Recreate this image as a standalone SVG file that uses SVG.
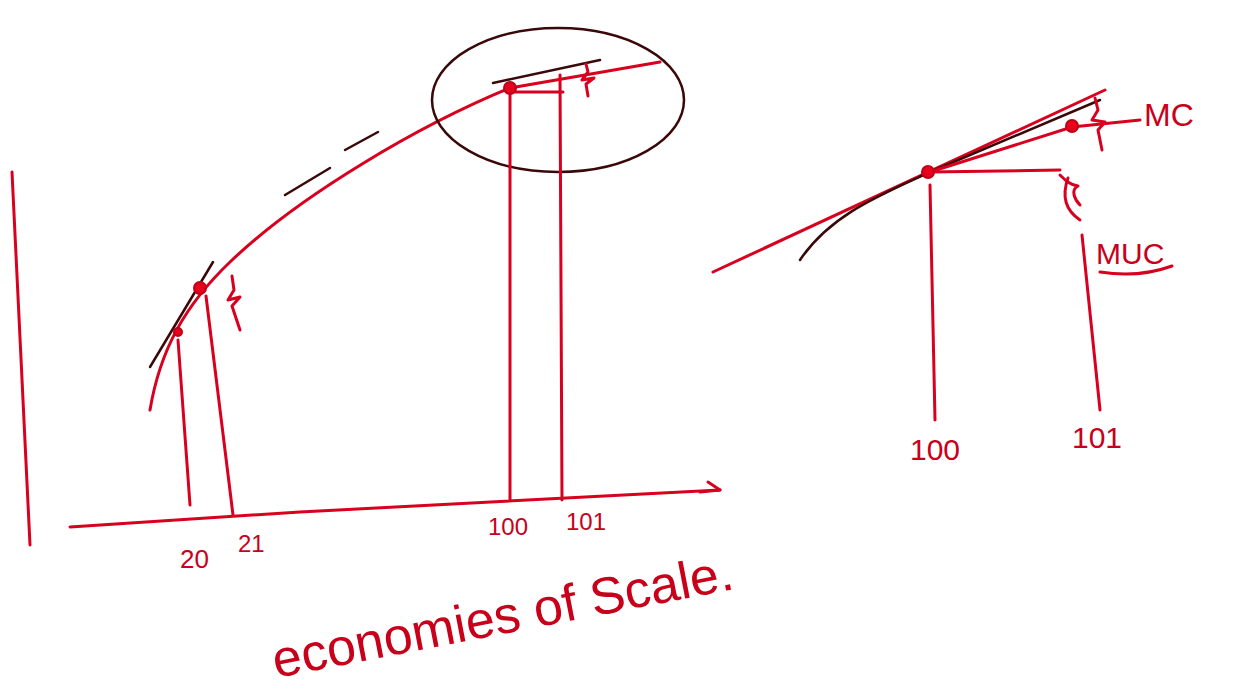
<svg xmlns="http://www.w3.org/2000/svg" width="1234" height="696" viewBox="0 0 1234 696">
<style>
.r{fill:none;stroke:#d8001e;stroke-width:3;stroke-linecap:round;stroke-linejoin:round}
.k{fill:none;stroke:#3a0808;stroke-width:2.5;stroke-linecap:round;stroke-linejoin:round}
.d{fill:#e8001e;stroke:#c00018;stroke-width:2}
.t{font-family:"Liberation Sans","DejaVu Sans",sans-serif;fill:#c8001a}
</style>
<rect width="1234" height="696" fill="#ffffff"/>
<g id="left-graph">
<path class="r" d="M12,172 L30,545"/>
<path class="r" d="M70,527 L300,512 L720,490"/>
<path class="r" d="M700,492 L720,490 L708,482"/>
<path class="r" d="M150,410 C160,350 185,305 230,262 C300,195 420,125 510,88 L660,62"/>
<path class="k" d="M150,367 L213,262"/>
<path class="k" d="M285,195 L330,168"/>
<path class="k" d="M345,150 L378,132"/>
<path class="r" d="M178,340 L190,505"/>
<path class="r" d="M206,296 L233,515"/>
<path class="r" d="M232,276 L234,290 L228,300 L240,297 L232,306 L240,330"/>
<ellipse class="k" cx="558" cy="100" rx="126" ry="72"/>
<path class="k" d="M493,83 L600,60"/>
<path class="r" d="M515,92 L563,92"/>
<path class="r" d="M510,95 L510,500"/>
<path class="r" d="M560,75 L562,500"/>
<path class="r" d="M586,64 L588,72 L582,80 L594,78 L586,84 L588,96"/>
</g>
<g id="right-graph">
<path class="r" d="M713,272 L1105,90"/>
<path class="k" d="M800,260 C830,215 880,195 930,172 L1100,100"/>
<path class="r" d="M930,172 L1060,170"/>
<path class="r" d="M930,172 L1072,127 L1140,120"/>
<path class="r" d="M930,185 L935,420"/>
<path class="r" d="M1082,235 L1100,410"/>
<path class="r" d="M1095,98 L1098,110 L1092,120 L1105,122 L1098,130 L1102,150"/>
<path class="r" d="M1060,175 C1065,180 1070,185 1078,186 C1070,190 1075,200 1080,205"/>
<path class="r" d="M1068,178 C1062,195 1065,210 1080,220"/>
<path class="r" d="M1100,272 C1125,276 1150,274 1172,266"/>
</g>
<g id="dots">
<circle class="d" cx="200" cy="288" r="6"/>
<circle class="d" cx="178" cy="332" r="4"/>
<circle class="d" cx="510" cy="88" r="6"/>
<circle class="d" cx="928" cy="172" r="6"/>
<circle class="d" cx="1072" cy="126" r="6"/>
</g>
<g id="labels">
<text class="t" x="180" y="568" font-size="26">20</text>
<text class="t" x="238" y="552" font-size="24">21</text>
<text class="t" x="488" y="535" font-size="24">100</text>
<text class="t" x="566" y="530" font-size="24">101</text>
<text class="t" x="910" y="460" font-size="30">100</text>
<text class="t" x="1072" y="448" font-size="30">101</text>
<text class="t" x="1144" y="126" font-size="32">MC</text>
<text class="t" x="1096" y="264" font-size="30">MUC</text>
<text class="t" x="276" y="678" font-size="52" transform="rotate(-11 276 678)">economies of Scale.</text>
</g>
</svg>
